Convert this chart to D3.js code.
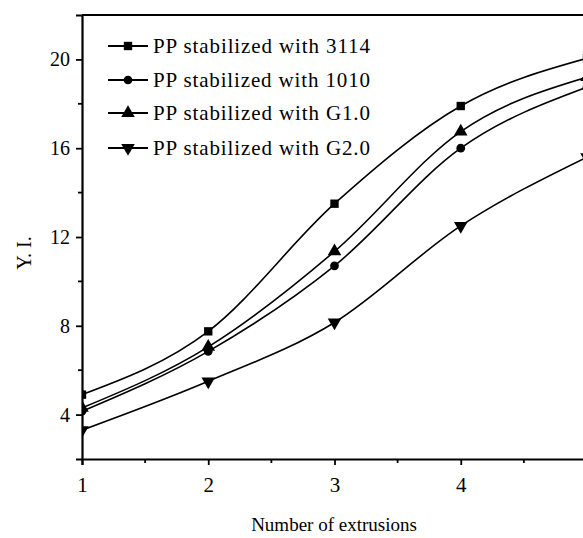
<!DOCTYPE html>
<html>
<head>
<meta charset="UTF-8">
<title>Y.I. vs number of extrusions</title>
<script src="https://cdnjs.cloudflare.com/ajax/libs/d3/7.8.5/d3.min.js"></script>
<style>
  body { margin: 0; padding: 0; background: #fff; }
  svg { display: block; }
  text { font-family: "Liberation Serif", "Times New Roman", serif; fill: #000; }
</style>
</head>
<body>
<svg id="chart" width="583" height="538"></svg>
<script>
// data
const extrusions = [1, 2, 3, 4, 5];
const seriesNames = ["PP stabilized with 3114", "PP stabilized with 1010", "PP stabilized with G1.0", "PP stabilized with G2.0"];
const yi3114 = [4.9, 7.75, 13.5, 17.9, 20.05];
const yi1010 = [4.15, 6.85, 10.7, 16.0, 18.75];
const yiG10  = [4.3, 7.05, 11.35, 16.75, 19.2];
const yiG20  = [3.3, 5.5, 8.15, 12.5, 15.6];
const markers = ["square", "circle", "triangle", "down"];
const xTicks = [1, 2, 3, 4, 5];
const yTicks = [4, 8, 12, 16, 20];

const svg = d3.select("#chart");
const plotL = 82, plotR = 587, plotT = 15, plotB = 459;
const serif = "Liberation Serif, Times New Roman, serif";

const x = d3.scaleLinear().domain([1, 5]).range([plotL, plotR]);
const y = d3.scaleLinear().domain([2, 22]).range([plotB, plotT]);

svg.append("clipPath").attr("id", "plotclip")
  .append("rect").attr("x", plotL).attr("y", plotT).attr("width", plotR - plotL).attr("height", plotB - plotT);

// axes
const xAxis = d3.axisBottom(x).tickValues(xTicks).tickFormat(d3.format("d")).tickSize(6).tickPadding(12);
const yAxis = d3.axisLeft(y).tickValues(yTicks).tickFormat(d3.format("d")).tickSize(6).tickPadding(6);

const gx = svg.append("g").attr("transform", `translate(0,${plotB})`).call(xAxis);
const gy = svg.append("g").attr("transform", `translate(${plotL},0)`).call(yAxis);

[gx, gy].forEach(g => {
  g.attr("font-family", serif);
  g.select(".domain").attr("stroke", "#000").attr("stroke-width", 2.2);
  g.selectAll(".tick line").attr("stroke", "#000").attr("stroke-width", 1.8);
  g.selectAll(".tick text").attr("font-size", 20).attr("fill", "#000");
});
gx.selectAll(".tick text").attr("font-size", 21);

// minor ticks
svg.append("g").selectAll("line")
  .data(d3.range(1.5, 5, 1))
  .join("line")
  .attr("x1", d => x(d)).attr("x2", d => x(d))
  .attr("y1", plotB).attr("y2", plotB + 4)
  .attr("stroke", "#000").attr("stroke-width", 1.8);

svg.append("g").selectAll("line")
  .data(d3.range(6, 22, 4))
  .join("line")
  .attr("x1", plotL - 4).attr("x2", plotL)
  .attr("y1", d => y(d)).attr("y2", d => y(d))
  .attr("stroke", "#000").attr("stroke-width", 1.8);

// top frame line
svg.append("line")
  .attr("x1", plotL).attr("x2", 583).attr("y1", plotT).attr("y2", plotT)
  .attr("stroke", "#000").attr("stroke-width", 2.2);

// axis titles
svg.append("text")
  .attr("x", 334).attr("y", 531)
  .attr("text-anchor", "middle")
  .attr("font-family", serif)
  .attr("font-size", 19)
  .text("Number of extrusions");

svg.append("text")
  .attr("transform", "translate(31,253) rotate(-90)")
  .attr("text-anchor", "middle")
  .attr("font-family", serif)
  .attr("font-size", 20)
  .text("Y. I.");

// series
const allSeries = [yi3114, yi1010, yiG10, yiG20];

const line = d3.line()
  .x((d, i) => x(extrusions[i]))
  .y(d => y(d))
  .curve(d3.curveMonotoneX);

const plot = svg.append("g").attr("clip-path", "url(#plotclip)");

plot.selectAll("path.series")
  .data(allSeries)
  .join("path")
  .attr("class", "series")
  .attr("d", line)
  .attr("fill", "none")
  .attr("stroke", "#000")
  .attr("stroke-width", 1.6);

const symbolOf = {
  square: d3.symbol().type(d3.symbolSquare).size(70),
  circle: d3.symbol().type(d3.symbolCircle).size(60),
  triangle: d3.symbol().type(d3.symbolTriangle).size(80),
  down: d3.symbol().type(d3.symbolTriangle).size(80)
};

allSeries.forEach((vals, si) => {
  const m = markers[si];
  plot.append("g").selectAll("path")
    .data(vals)
    .join("path")
    .attr("d", symbolOf[m]())
    .attr("transform", (d, i) => `translate(${x(extrusions[i])},${y(d)})` + (m === "down" ? " rotate(180)" : ""))
    .attr("fill", "#000");
});

// legend
const legend = svg.append("g");
const legY = [46, 80, 113, 148];
seriesNames.forEach((name, i) => {
  const g = legend.append("g").attr("transform", `translate(0,${legY[i]})`);
  g.append("line").attr("x1", 108).attr("x2", 148).attr("y1", 0).attr("y2", 0)
    .attr("stroke", "#000").attr("stroke-width", 2);
  g.append("path").attr("d", symbolOf[markers[i]]())
    .attr("transform", "translate(128,0)" + (markers[i] === "down" ? " rotate(180)" : ""))
    .attr("fill", "#000");
  g.append("text").attr("x", 153).attr("y", 7)
    .attr("font-family", serif)
    .attr("font-size", 21)
    .attr("textLength", 217).attr("lengthAdjust", "spacing")
    .text(name);
});
</script>
</body>
</html>
